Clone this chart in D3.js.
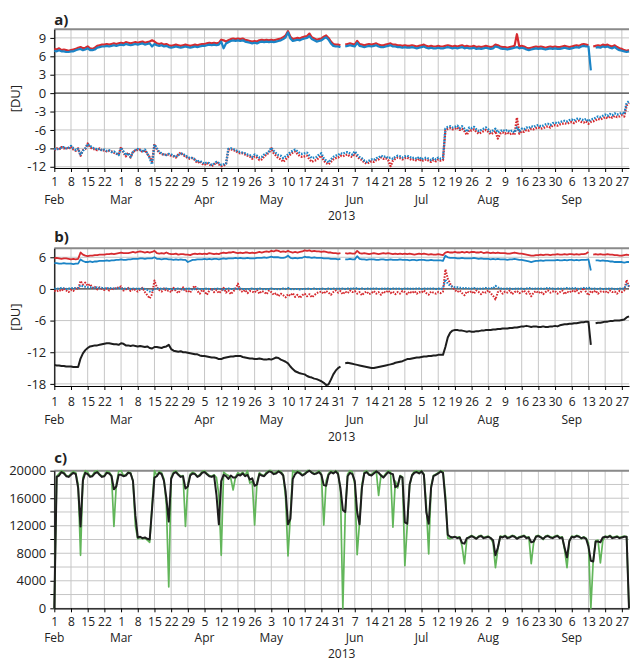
<!DOCTYPE html>
<html>
<head>
<meta charset="utf-8">
<script src="https://cdn.jsdelivr.net/npm/d3@7"></script>
<style>
  body { margin: 0; background: #fff; }
  svg { display: block; }
  text { font-family: "Open Sans", sans-serif; fill: #222; }
</style>
</head>
<body>
<div id="chart"></div>
<script>
// daily values, first value = 1 Feb 2013, last = 30 Sep 2013 (242 days)
const startDate = new Date(2013, 1, 1);
const endDate = new Date(2013, 8, 30);
const monthNames = ["Feb", "Mar", "Apr", "May", "Jun", "Jul", "Aug", "Sep"];
const yearLabel = "2013";
const panelTitles = ["a)", "b)", "c)"];
const unitLabel = "[DU]";

const aTicks = [9, 6, 3, 0, -3, -6, -9, -12];
const bTicks = [6, 0, -6, -12, -18];
const cTicks = [20000, 16000, 12000, 8000, 4000, 0];
const cMinorTicks = [18000, 14000, 10000, 6000, 2000];

// panel a, upper pair
const aRedUp = [
  7.2,7.1,7.3,7.0,7.1,7.0,6.9, 7.0,7.1,7.2,7.4,7.5,7.3,7.4, 7.6,7.3,7.2,7.4,7.7,7.8,7.9, 7.9,8.0,7.9,8.0,8.1,8.0,8.1,
  8.2,8.1,8.3,8.2,8.1,8.2,8.3, 8.2,8.3,8.4,8.2,8.3,8.4,8.6, 8.4,8.1,8.0,8.1,7.9,8.0,7.8, 7.7,7.8,7.9,7.8,7.7,7.8,7.9,
  7.8,7.7,7.8,7.9,7.8,7.9,8.0, 8.0,8.1,8.2,8.1,8.2,8.1,8.2, 8.7,8.6,8.4,8.6,8.8,8.9,8.8, 8.9,8.8,8.9,8.7,8.6,8.5,8.4,
  8.5,8.4,8.6,8.7,8.6,8.7,8.6, 8.7,8.6,8.7,8.8,8.9,9.1,9.4, 10.1,9.2,8.8,8.9,9.0,8.9,9.1, 9.2,9.3,9.7,9.1,8.9,8.7,8.8,
  8.9,9.2,9.4,9.0,8.4,8.0,7.9, 7.9,7.8,null,7.9,8.0,8.1,8.0, 7.9,8.5,8.0,7.9,7.8,7.9,8.0, 7.9,8.0,8.1,7.9,7.8,7.8,7.9,
  8.0,8.1,7.9,7.9,7.8,7.8,7.7, 7.8,7.7,7.7,7.8,7.7,7.6,7.7, 7.8,7.9,7.7,7.6,7.7,7.6,7.6, 7.7,7.6,7.6,7.7,7.8,7.7,7.6,
  7.7,7.6,7.7,7.8,7.6,7.7,7.6, 7.6,7.7,7.5,7.6,7.5,7.6,7.7, 7.6,7.5,7.6,7.9,7.8,7.6,7.5, 7.5,7.4,7.5,7.6,7.7,9.6,7.6,
  7.7,7.6,7.4,7.3,7.4,7.5,7.6, 7.5,7.6,7.5,7.4,7.5,7.6,7.5, 7.6,7.5,7.5,7.6,7.7,7.6,7.5, 7.6,7.7,7.8,7.7,7.9,8.0,7.9,
  7.8,null,7.6,7.7,7.8,7.7,7.9, 7.8,7.9,7.7,7.6,7.8,7.5,7.3, 7.2,7.0,6.9,7.0
];
const aBlueUp = [
  6.9,6.8,7.0,6.8,6.8,6.7,6.7, 6.8,6.8,7.0,7.1,7.2,7.0,7.1, 7.3,7.0,7.0,7.1,7.4,7.5,7.6, 7.6,7.7,7.6,7.7,7.8,7.7,7.8,
  7.9,7.8,8.0,7.9,7.8,7.9,8.0, 7.9,8.0,8.1,7.9,8.0,8.1,7.6, 8.0,7.8,7.7,7.8,7.6,7.7,7.5, 7.4,7.5,7.6,7.5,7.4,7.5,7.6,
  7.5,7.4,7.5,7.6,7.5,7.6,7.7, 7.7,7.8,7.9,7.8,7.9,7.8,7.9, 8.4,7.3,8.1,8.3,8.5,8.6,8.5, 8.6,8.5,8.6,8.4,8.3,8.2,8.1,
  8.2,8.1,8.3,8.4,8.3,8.4,8.3, 8.4,8.3,8.4,8.5,8.6,8.8,9.1, 9.9,8.9,8.5,8.6,8.7,8.6,8.8, 8.9,9.0,9.3,8.8,8.6,8.4,8.5,
  8.6,8.9,9.1,8.7,8.1,7.7,7.6, 7.6,7.5,null,7.6,7.7,7.8,7.7, 7.6,8.2,7.7,7.6,7.5,7.6,7.7, 7.6,7.7,7.8,7.6,7.5,7.5,7.6,
  7.7,7.8,7.6,7.6,7.5,7.5,7.4, 7.5,7.4,7.4,7.5,7.4,7.3,7.4, 7.5,7.6,7.4,7.3,7.4,7.3,7.3, 7.4,7.3,7.3,7.4,7.5,7.4,7.3,
  7.4,7.3,7.4,7.5,7.3,7.4,7.3, 7.3,7.4,7.2,7.3,7.2,7.3,7.4, 7.3,7.2,7.3,7.6,7.5,7.3,7.2, 7.2,7.1,7.2,7.3,7.4,7.5,7.3,
  7.4,7.3,7.1,7.0,7.1,7.2,7.3, 7.2,7.3,7.2,7.1,7.2,7.3,7.2, 7.3,7.2,7.2,7.3,7.4,7.3,7.2, 7.3,7.4,7.5,7.4,7.6,7.7,7.6,
  7.6,3.7,null,7.4,7.5,7.4,7.6, 7.5,7.6,7.4,7.3,7.5,7.2,7.0, 6.9,6.8,6.7,6.8
];
// panel a, lower pair (dotted)
const aRedLo = [
  -9.3,-9.0,-9.2,-8.8,-9.0,-8.9,-9.1, -8.7,-9.2,-9.4,-9.0,-10.2,-9.3,-9.1, -8.2,-8.8,-9.1,-9.1,-9.3,-9.0,-9.4,
  -9.3,-9.5,-9.4,-9.5,-9.7,-9.9,-10.0, -8.8,-9.7,-10.3,-9.7,-10.5,-9.5,-9.4, -9.2,-9.2,-9.6,-9.3,-9.9,-10.4,-11.2,
  -8.3,-9.2,-9.7,-9.9,-10.1,-10.0,-10.0, -10.2,-10.3,-10.5,-10.0,-9.7,-10.1,-10.3, -10.6,-10.7,-10.6,-10.9,-11.4,-11.1,-11.5,
  -11.7,-11.4,-11.6,-11.9,-11.6,-11.3,-11.6, -11.9,-11.8,-11.6,-9.2,-9.1,-9.3,-9.4, -9.7,-9.8,-9.8,-10.0,-10.2,-10.3,-10.7,
  -10.3,-10.5,-10.9,-10.8,-10.3,-10.0,-9.7, -9.0,-9.8,-10.2,-10.6,-10.8,-11.2,-10.8, -10.4,-10.0,-9.7,-9.5,-9.9,-10.3,-10.4,
  -10.3,-10.2,-10.8,-11.2,-11.0,-10.9,-10.5, -10.2,-11.0,-11.4,-11.6,-11.2,-10.8,-10.6, -10.5,-10.2,-10.3,-10.1,-10.0,-10.3,-10.4,
  -9.8,-10.3,-10.7,-10.9,-11.3,-11.5,-11.3, -11.1,-11.2,-10.9,-10.8,-10.5,-10.7,-10.6, -10.9,-11.9,-11.0,-10.7,-10.5,-10.6,-10.8,
  -10.6,-10.5,-10.7,-10.9,-10.8,-11.0,-10.7, -11.1,-10.9,-10.8,-11.0,-11.2,-10.9,-11.1, -10.8,-11.0,-10.9,-6.1,-5.8,-5.7,-5.9,
  -5.8,-5.6,-6.0,-5.8,-6.2,-6.8,-6.0, -6.1,-5.9,-6.3,-6.6,-6.4,-6.2,-6.0, -6.3,-6.7,-6.5,-6.2,-7.4,-6.6,-6.4,
  -6.6,-6.4,-6.7,-6.5,-6.8,-4.0,-6.6, -6.2,-6.3,-6.0,-6.1,-5.8,-5.9,-5.7, -5.6,-5.8,-5.7,-5.5,-5.4,-5.6,-5.3,
  -5.2,-5.3,-5.1,-5.0,-4.9,-5.0,-4.8, -4.7,-4.9,-4.6,-4.5,-4.7,-4.8,-4.6, -5.0,-4.7,-4.6,-4.4,-4.2,-4.3,-4.1,
  -3.9,-4.1,-3.8,-4.0,-3.7,-3.9,-3.8, -3.6,-3.8,-2.0,-1.6
];
const aBlueLo = [
  -9.1,-9.2,-9.0,-8.9,-8.8,-9.0,-8.9, -8.6,-9.0,-9.3,-9.1,-10.0,-9.4,-9.0, -8.3,-8.6,-8.9,-9.0,-9.2,-9.1,-9.3,
  -9.2,-9.4,-9.3,-9.6,-9.5,-9.8,-10.1, -8.9,-9.5,-10.1,-9.8,-10.4,-9.6,-9.3, -9.1,-9.3,-9.5,-9.2,-9.8,-10.6,-11.6,
  -8.4,-9.0,-9.6,-9.8,-10.0,-10.1,-9.9, -10.0,-10.2,-10.4,-10.1,-9.8,-9.9,-10.2, -10.4,-10.6,-10.5,-10.8,-11.2,-11.0,-11.3,
  -11.5,-11.3,-11.4,-11.7,-11.5,-11.2,-11.4, -11.7,-11.6,-11.5,-9.1,-9.0,-9.1,-9.3, -9.5,-9.6,-9.7,-9.8,-10.0,-10.1,-10.4,
  -10.0,-10.2,-10.5,-10.4,-10.0,-9.8,-9.5, -8.9,-9.4,-9.8,-10.1,-10.2,-10.6,-10.3, -10.0,-9.6,-9.4,-9.2,-9.5,-9.8,-9.9,
  -9.8,-9.7,-10.2,-10.6,-10.5,-10.4,-10.0, -9.8,-10.6,-11.0,-11.3,-10.8,-10.4,-10.2, -10.1,-9.8,-9.9,-9.7,-9.6,-9.8,-10.0,
  -9.5,-10.0,-10.4,-10.6,-11.0,-11.2,-11.0, -10.8,-10.9,-10.6,-10.5,-10.2,-10.4,-10.3, -10.6,-10.5,-10.7,-10.4,-10.2,-10.3,-10.5,
  -10.3,-10.2,-10.4,-10.6,-10.5,-10.7,-10.4, -10.8,-10.6,-10.5,-10.7,-10.9,-10.6,-10.8, -10.5,-10.7,-10.6,-5.8,-5.5,-5.4,-5.6,
  -5.5,-5.3,-5.7,-5.4,-5.8,-6.3,-5.6, -5.7,-5.5,-5.9,-6.2,-6.0,-5.8,-5.6, -5.9,-6.3,-6.1,-5.8,-6.4,-6.2,-6.0,
  -6.2,-6.0,-6.3,-6.1,-6.4,-5.6,-6.2, -5.8,-5.9,-5.6,-5.7,-5.4,-5.5,-5.3, -5.2,-5.4,-5.3,-5.1,-5.0,-5.2,-4.9,
  -4.8,-4.9,-4.7,-4.6,-4.5,-4.6,-4.4, -4.3,-4.5,-4.2,-4.1,-4.3,-4.4,-4.2, -4.6,-4.3,-4.2,-4.0,-3.8,-3.9,-3.7,
  -3.5,-3.7,-3.4,-3.6,-3.3,-3.5,-3.4, -3.2,-3.4,-1.6,-1.3
];

// panel b
const bRedUp = [
  5.8,5.9,5.8,5.7,5.8,5.8,5.7, 5.6,5.7,5.6,5.7,6.9,6.5,6.3, 6.2,6.3,6.3,6.4,6.4,6.5,6.5, 6.5,6.6,6.6,6.7,6.6,6.7,6.8,
  6.9,6.8,6.8,6.8,6.9,7.0,6.9, 7.0,7.1,7.0,6.9,7.0,6.9,7.0, 7.2,6.8,6.7,6.8,6.7,6.9,6.7, 6.6,6.6,6.7,6.5,6.6,6.6,6.5,
  6.5,6.4,6.6,6.7,6.6,6.7,6.6, 6.7,6.6,6.8,6.7,6.6,6.7,6.6, 6.8,6.9,6.8,6.9,6.9,7.0,6.9, 6.8,6.9,6.8,6.9,6.9,6.8,6.9,
  6.8,6.9,7.0,6.9,7.0,7.1,7.0, 7.2,7.1,7.3,7.2,7.0,7.1,7.0, 7.2,7.0,6.9,7.0,6.9,7.0,7.1, 7.3,7.2,7.3,7.1,7.2,7.1,7.1,
  7.0,7.1,7.0,6.9,6.9,6.8,6.8, 6.7,6.8,null,6.8,6.7,6.8,6.7, 6.7,7.2,6.8,6.7,6.8,6.7,6.6, 6.7,6.8,6.7,6.6,6.7,6.8,6.7,
  6.8,6.7,6.6,6.7,6.6,6.7,6.6, 6.7,6.6,6.7,6.6,6.5,6.6,6.7, 6.6,6.7,6.6,6.5,6.6,6.5,6.5, 6.6,6.5,6.4,6.9,7.0,6.9,6.9,
  7.0,6.9,6.9,7.0,6.9,7.0,6.9, 7.0,7.0,6.9,6.9,7.0,6.8,6.9, 6.9,6.8,6.9,6.8,6.9,6.8,6.8, 6.8,6.7,6.7,6.8,6.9,6.8,6.7,
  6.7,6.6,6.5,6.4,6.3,6.3,6.4, 6.4,6.5,6.4,6.5,6.5,6.4,6.5, 6.5,6.6,6.5,6.5,6.6,6.5,6.6, 6.6,6.5,6.6,6.5,6.6,6.6,6.7,
  7.0,null,6.5,6.6,6.5,6.6,6.5, 6.5,6.6,6.5,6.5,6.4,6.4,6.3, 6.3,6.4,6.5,6.4
];
const bBlueUp = [
  4.9,4.9,4.8,4.8,4.9,4.8,4.8, 4.8,4.7,4.8,4.8,5.6,5.3,5.1, 5.1,5.2,5.1,5.2,5.2,5.3,5.3, 5.3,5.4,5.3,5.4,5.4,5.5,5.5,
  5.6,5.5,5.5,5.6,5.6,5.7,5.7, 5.7,5.8,5.8,5.7,5.8,5.8,5.8, 6.0,5.7,5.7,5.6,5.7,5.7,5.6, 5.6,5.5,5.6,5.5,5.6,5.5,5.5,
  5.1,5.3,5.5,5.5,5.6,5.6,5.6, 5.7,5.6,5.7,5.6,5.7,5.7,5.6, 5.7,5.8,5.7,5.8,5.8,5.8,5.9, 5.8,5.9,5.8,5.8,5.9,5.8,5.8,
  5.8,5.9,5.9,5.9,6.0,5.9,6.0, 6.1,6.0,6.0,6.0,5.9,5.9,6.0, 6.3,5.9,5.8,5.9,5.8,5.9,5.9, 6.1,6.0,6.0,5.9,6.0,5.9,5.9,
  5.9,5.8,5.8,5.8,5.7,5.7,5.7, 5.6,5.7,null,5.6,5.6,5.7,5.6, 5.6,6.2,5.7,5.6,5.6,5.5,5.6, 5.6,5.6,5.5,5.5,5.6,5.6,5.5,
  5.5,5.6,5.5,5.5,5.5,5.6,5.5, 5.5,5.5,5.4,5.5,5.5,5.4,5.5, 5.5,5.5,5.4,5.4,5.5,5.4,5.4, 5.4,5.4,5.3,6.3,6.0,5.9,5.9,
  5.9,5.8,5.8,5.9,5.8,5.8,5.8, 5.8,5.9,5.8,5.7,5.8,5.7,5.7, 5.7,5.6,5.7,5.6,5.7,5.6,5.6, 5.6,5.5,5.6,5.6,5.7,5.6,5.5,
  5.5,5.4,5.3,5.2,5.1,5.2,5.3, 5.3,5.4,5.3,5.4,5.4,5.4,5.4, 5.4,5.5,5.4,5.4,5.5,5.4,5.5, 5.5,5.4,5.5,5.4,5.5,5.5,5.5,
  5.6,3.5,null,5.4,5.4,5.3,5.4, 5.3,5.3,5.2,5.2,5.1,5.1,5.1, 5.1,5.0,5.1,5.1
];
const bRedMid = [
  -0.3,-0.5,-0.2,-0.4,0.1,-0.3,-0.6, -0.2,-0.4,0.3,-0.1,1.5,0.8,1.2, 0.6,0.9,0.2,0.4,-0.1,0.3,0.0, -0.2,0.1,-0.3,0.2,-0.1,0.3,0.2,
  0.5,-0.3,-0.1,0.2,-0.4,0.0,-0.2, -0.5,-0.1,0.2,-0.6,-1.2,-1.8,-1.0, 1.6,0.3,-0.2,-0.5,0.1,-0.4,-0.3, -0.6,0.2,-0.4,-0.8,-0.2,0.3,-0.5,
  -0.3,-0.7,0.2,0.6,-0.4,-0.9,-0.2, -0.5,-1.1,-0.3,0.1,-0.6,-0.2,-0.8, -0.4,0.2,-0.7,-0.3,-1.0,-0.5,0.0, 1.0,-0.3,-0.6,-0.2,-0.8,-0.4,-0.5,
  -0.7,-0.2,-0.9,-0.4,-0.6,-1.0,-0.3, -0.6,-1.1,-0.8,-1.4,-0.9,-1.2,-1.6, -1.0,-1.3,-0.8,-1.5,-1.1,-1.7,-1.2, -0.9,-1.4,-1.0,-1.6,-1.2,-0.8,-0.6,
  -0.5,-0.9,-0.4,-0.7,-1.1,-0.6,-0.3, -0.7,-0.4,-1.0,-0.5,-0.8,-0.3,-0.6, -0.4,-0.9,-0.6,-1.2,-0.7,-0.5,-1.0, -0.8,-0.4,-0.9,-0.6,-1.1,-0.5,-0.7,
  -0.3,-0.8,-0.5,-1.0,-0.6,-0.9,-0.4, -0.6,-1.0,-0.5,-0.8,-0.4,-0.9,-0.6, -0.7,-0.3,-0.8,-1.1,-0.5,-0.7,-0.9, -0.6,-0.8,-0.5,3.7,2.0,1.0,0.3,
  -0.2,-0.6,-0.3,-0.8,-1.2,-0.5,-0.7, -0.4,-0.9,-0.3,-0.6,-1.0,-0.5,-0.7, -0.3,-0.8,-1.3,-2.0,-0.6,-0.4,-0.9, -0.5,-0.7,-0.3,-1.0,-0.6,-0.4,-0.8,
  -0.6,-0.3,-0.9,-0.5,-1.4,-0.7,-0.4, -0.8,-0.5,-1.0,-0.6,-0.3,-0.7,-0.5, -0.4,-0.9,-0.6,-0.3,-1.0,-0.5,-0.7, -0.3,-0.6,-0.2,-0.8,-0.5,0.2,-0.6,
  -1.2,-0.4,-0.7,-0.3,-0.9,-0.5,-0.6, -0.4,-0.8,-0.3,-0.6,-0.5,-0.9,-0.4, -0.6,-0.3,1.7,0.4
];
const bBlueMid = [
  0.1,0.0,0.1,0.2,0.1,0.0,0.1, 0.1,0.2,0.1,0.2,0.7,0.5,0.4, 0.3,0.3,0.2,0.2,0.3,0.2,0.2, 0.1,0.2,0.1,0.2,0.1,0.1,0.2,
  0.1,0.0,0.1,0.1,0.0,0.1,0.0, 0.1,0.0,0.1,0.0,-0.2,-0.5,-0.3, 0.0,0.1,0.0,0.1,0.0,0.1,0.0, 0.0,-0.1,0.0,0.1,0.0,-0.1,0.0,
  0.1,0.0,-0.1,0.0,0.1,0.0,0.0, 0.0,0.1,0.0,-0.1,0.0,0.1,0.0, 0.0,-0.1,0.0,0.1,0.0,0.0,0.1, 0.0,0.1,0.0,0.0,-0.1,0.0,0.1,
  0.0,0.0,0.1,0.0,-0.1,0.0,0.0, 0.1,0.0,0.0,-0.1,0.0,0.1,0.0, 0.2,0.0,-0.1,0.0,0.0,-0.1,0.0, 0.0,0.1,0.0,0.0,0.1,0.0,0.0,
  0.1,0.0,0.0,0.1,0.0,0.1,0.0, 0.1,0.0,0.1,0.0,0.1,0.1,0.0, 0.2,0.1,0.0,0.1,0.0,0.1,0.1, 0.0,0.1,0.1,0.0,0.1,0.0,0.1,
  0.1,0.0,0.1,0.1,0.0,0.1,0.0, 0.1,0.1,0.0,0.1,0.0,0.1,0.1, 0.0,0.1,0.1,0.0,0.1,0.1,0.0, 0.1,0.0,0.1,1.8,1.0,0.6,0.4,
  0.3,0.3,0.2,0.2,0.1,0.2,0.1, 0.1,0.2,0.1,0.0,0.1,0.1,0.2, 0.1,0.2,0.1,0.6,0.3,0.1,0.1, 0.0,0.1,0.1,0.0,0.1,0.0,0.1,
  0.1,0.0,0.1,0.2,0.1,0.0,0.1, 0.1,0.1,0.0,0.1,0.2,0.1,0.1, 0.0,0.1,0.1,0.0,0.1,0.2,0.1, 0.1,0.2,0.1,0.0,0.1,0.2,0.1,
  0.3,0.0,0.1,0.1,0.0,0.1,0.0, 0.0,0.1,0.0,0.1,0.0,0.0,0.1, 0.0,0.1,0.9,0.5
];
const bBlack = [
  -14.4,-14.5,-14.5,-14.6,-14.6,-14.7,-14.7, -14.7,-14.8,-14.8,-14.8,-13.2,-12.2,-11.6, -11.2,-10.9,-10.8,-10.7,-10.7,-10.6,-10.5,
  -10.4,-10.3,-10.3,-10.4,-10.5,-10.5,-10.6, -10.3,-10.4,-10.7,-10.7,-10.8,-10.7,-10.8, -10.9,-10.8,-10.9,-11.0,-10.9,-11.2,-11.3,
  -11.0,-11.0,-11.1,-11.2,-11.0,-10.9,-10.6, -11.4,-11.7,-11.8,-11.9,-11.8,-12.0,-12.0, -12.1,-12.2,-12.3,-12.4,-12.4,-12.6,-12.7,
  -12.7,-12.8,-12.9,-13.0,-13.0,-13.1,-13.3, -13.3,-13.1,-13.0,-12.9,-12.8,-12.8,-12.7, -12.7,-12.7,-12.9,-13.0,-13.1,-13.2,-13.2,
  -13.3,-13.3,-13.2,-13.3,-13.4,-13.4,-13.3, -13.4,-13.2,-13.0,-13.1,-13.4,-13.6,-13.8, -14.1,-14.7,-15.2,-15.6,-15.8,-16.0,-16.1,
  -16.2,-16.5,-16.7,-16.8,-17.0,-17.1,-17.3, -17.5,-17.8,-18.2,-18.1,-17.2,-16.2,-15.5, -15.0,-14.7,null,-14.1,-14.0,-14.1,-14.2,
  -14.3,-14.4,-14.5,-14.6,-14.7,-14.8,-14.9, -15.0,-15.0,-14.9,-14.8,-14.7,-14.6,-14.5, -14.4,-14.3,-14.2,-14.0,-13.9,-13.8,-13.7,
  -13.5,-13.3,-13.3,-13.2,-13.1,-13.0,-13.0, -12.9,-12.8,-12.8,-12.7,-12.7,-12.6,-12.6, -12.5,-12.5,-12.5,-11.0,-9.2,-8.3,-7.9,
  -7.8,-7.8,-7.9,-7.9,-8.0,-8.1,-8.0, -8.1,-8.1,-8.0,-8.0,-7.9,-7.9,-7.8, -7.8,-7.8,-7.7,-7.7,-7.6,-7.6,-7.5,
  -7.5,-7.5,-7.4,-7.4,-7.3,-7.3,-7.2, -7.1,-7.1,-7.0,-7.1,-7.2,-7.1,-7.1, -7.2,-7.2,-7.1,-7.2,-7.2,-7.1,-7.1,
  -7.0,-7.1,-6.9,-6.8,-6.7,-6.7,-6.6, -6.6,-6.5,-6.5,-6.4,-6.3,-6.3,-6.2, -6.2,-10.6,null,-6.5,-6.4,-6.4,-6.3,
  -6.2,-6.2,-6.1,-6.1,-6.0,-6.0,-6.0, -5.9,-5.8,-5.4,-5.2
];

// panel c
const cGreen = [
  0,19200,19600,20000,19800,19300,19200, 19600,19900,19700,18000,7700,19000,20000, 19800,19200,19300,19900,20000,19500,19200,
  19300,19900,19800,19300,11900,18000,19900, 20000,19300,19400,19800,19700,18500,12000, 10100,10300,10100,10200,9900,9600,15000,
  20000,19300,19900,19700,18800,15000,3100, 19000,19800,20000,19500,19200,19300,11900, 18000,19500,19800,19600,19200,19400,19900,
  20000,19600,19300,19200,19400,19000,16500, 7700,19800,19500,19300,18900,17200,19100, 19700,19500,19800,19300,20000,18200,18500,
  12100,18300,19700,19400,19300,19800,20000, 20000,19600,19800,20000,19900,19400,16000, 7600,13500,20000,19700,20000,19800,19400,
  19600,20000,20000,19800,19600,19700,20000, 19500,12100,18500,19600,20000,19700,20000, 19700,17000,0,13800,19500,20000,19800,
  18000,7800,12500,18000,19800,20000,19500, 19400,19800,20000,16400,19400,19100,19600, 20000,19800,11800,18500,17500,19300,19100,
  6200,12000,17800,19400,19900,20000,19800, 20000,19500,15000,7900,17800,19300,19500, 19700,20000,19900,16500,10200,10100,10300,
  10400,10300,10400,9000,6500,10100,10400, 10600,10400,10200,10500,10600,10300,10400, 10500,10200,9500,5900,8600,10500,10400,
  10600,10300,10400,10600,10500,10200,10400, 10500,10600,10300,10400,6500,9500,10500, 10600,10400,10000,10500,10600,10400,10300,
  10500,10600,10300,10400,8500,5900,9800, 10500,10400,10600,10500,10100,10400,10200, 9500,0,7000,9800,9900,6600,9800,
  10500,10400,10600,10300,10400,10500,10300, 10400,10500,10400,0
];
const cBlack = [
  0,19100,19300,19800,19600,19200,19100, 19400,19700,19500,17500,11900,18600,19700, 19500,19100,19200,19600,19800,19400,19100,
  19200,19700,19600,19200,17300,17700,19400, 19400,19200,19300,19700,19600,18500,13500, 10300,10400,10200,10300,10100,10000,14500,
  19000,19200,19700,19500,18500,16000,12600, 18800,19600,19800,19400,19100,19200,17400, 17700,19300,19600,19500,19100,19300,19700,
  19800,19500,19200,19100,19300,16500,12200, 18500,19400,19200,18800,19300,19000,19000, 19400,19300,19600,19200,19400,18700,18900,
  17800,18000,19500,19300,19200,19600,19900, 19800,19500,19600,19900,19700,19300,17000, 12200,13000,18800,19500,19800,19600,19300,
  19500,19800,20000,19700,19500,19600,19800, 19400,17900,17800,19400,19800,19600,19900, 19500,17500,14300,14000,19200,19700,19500,
  18500,14000,12200,17500,19600,19800,19400, 19300,19600,19900,19700,19300,19000,19400, 19800,19600,19500,17600,17800,19200,19000,
  12500,12300,18000,19300,19700,19800,19600, 19900,19400,14000,12300,17500,19200,19400, 19600,19900,19700,15800,10700,10400,10300,
  10400,10200,10300,9500,9400,10200,10300, 10500,10300,10100,10400,10500,10200,10300, 10400,10200,9900,7700,8800,10400,10300,
  10500,10200,10300,10500,10400,10100,10300, 10400,10500,10200,10300,9600,9700,10400, 10500,10300,10100,10400,10500,10300,10200,
  10400,10500,10200,10300,8800,7400,9800, 10400,10300,10500,10400,10200,10300,10100, 9000,6900,6800,9700,9700,9600,10300,
  10400,10300,10500,10200,10300,10400,10200, 10300,10400,10400,0
];

const red = "#d62b30";
const blue = "#1b84c6";
const green = "#62b65a";
const black = "#1e1e1e";
const gridColor = "#c6c6c6";

const svg = d3.select("#chart").append("svg")
  .attr("width", 630)
  .attr("height", 661);

let x = d3.scaleTime()
  .domain([startDate, endDate])
  .range([54.3, 629]);

const dayDate = i => d3.timeDay.offset(startDate, i);
const weekTicks = d3.timeDay.range(startDate, d3.timeDay.offset(endDate, 1), 7);

const panels = [
  {title: panelTitles[0], top: 29.3, bottom: 168, domain: [-12.2, 10.4], ticks: aTicks, grid: aTicks,
   zero: true, unit: true, titleY: 25, pad: 5.8, monthY: 203.8, yearY: 219.5},
  {title: panelTitles[1], top: 248.3, bottom: 386, domain: [-18.4, 7.7], ticks: bTicks, grid: bTicks,
   zero: true, unit: true, titleY: 242, pad: 7.8, monthY: 424, yearY: 440.5},
  {title: panelTitles[2], top: 470.7, bottom: 608.3, domain: [0, 20000], ticks: cTicks, grid: cTicks.concat(cMinorTicks),
   zero: false, unit: false, titleY: 463, pad: 5.6, monthY: 642, yearY: 657.6}
];

function drawPanel(p) {
  let y = d3.scaleLinear().domain(p.domain).range([p.bottom, p.top]);
  let g = svg.append("g");

  // grid
  g.selectAll(".vgrid")
    .data(weekTicks)
    .enter()
    .append("line")
    .attr("x1", d => x(d)).attr("x2", d => x(d))
    .attr("y1", p.top).attr("y2", p.bottom)
    .attr("stroke", gridColor).attr("stroke-width", 1);

  g.selectAll(".hgrid")
    .data(p.grid)
    .enter()
    .append("line")
    .attr("x1", x.range()[0]).attr("x2", x.range()[1])
    .attr("y1", d => y(d)).attr("y2", d => y(d))
    .attr("stroke", gridColor).attr("stroke-width", 1);

  if (p.zero) {
    g.append("line")
      .attr("x1", x.range()[0]).attr("x2", x.range()[1])
      .attr("y1", y(0)).attr("y2", y(0))
      .attr("stroke", "#444").attr("stroke-width", 1.2);
  }

  // top frame
  g.append("line")
    .attr("x1", x.range()[0]).attr("x2", x.range()[1])
    .attr("y1", p.top).attr("y2", p.top)
    .attr("stroke", "#8a8a8a").attr("stroke-width", 2);

  // axes
  let xAxis = d3.axisBottom(x)
    .tickValues(weekTicks)
    .tickFormat(d3.timeFormat("%-d"))
    .tickSize(4)
    .tickSizeOuter(0)
    .tickPadding(p.pad);
  let xg = g.append("g")
    .attr("transform", `translate(0, ${p.bottom})`)
    .call(xAxis);
  xg.selectAll("text").attr("font-size", "12px").attr("fill", "#222");

  let yAxis = d3.axisLeft(y)
    .tickValues(p.ticks)
    .tickFormat(d => String(d))
    .tickSize(4)
    .tickSizeOuter(0)
    .tickPadding(4);
  let yg = g.append("g")
    .attr("transform", `translate(${x.range()[0]}, 0)`)
    .call(yAxis);
  yg.selectAll("text").attr("font-size", "13px").attr("fill", "#222");
  if (p.grid.length > p.ticks.length) {
    yg.selectAll(".minor")
      .data(cMinorTicks)
      .enter()
      .append("line")
      .attr("x1", -4).attr("x2", 0)
      .attr("y1", d => y(d)).attr("y2", d => y(d))
      .attr("stroke", "#000");
  }
  [xg, yg].forEach(a => {
    a.select(".domain").attr("stroke", "#000").attr("stroke-width", 1.2);
    a.selectAll(".tick line").attr("stroke", "#000");
  });

  // month labels under the first weekly tick of each month
  monthNames.forEach((m, k) => {
    let first = weekTicks.find(t => t.getMonth() === k + 1);
    g.append("text")
      .text(m)
      .attr("x", x(first))
      .attr("y", p.monthY)
      .attr("text-anchor", "middle")
      .attr("font-size", "12px");
  });
  g.append("text")
    .text(yearLabel)
    .attr("x", (x.range()[0] + x.range()[1]) / 2)
    .attr("y", p.yearY)
    .attr("text-anchor", "middle")
    .attr("font-size", "12px");

  g.append("text")
    .text(p.title)
    .attr("x", x.range()[0])
    .attr("y", p.titleY)
    .attr("font-size", "15px")
    .attr("font-weight", "bold");

  if (p.unit) {
    g.append("text")
      .text(unitLabel)
      .attr("transform", `translate(20, ${(p.top + p.bottom) / 2}) rotate(-90)`)
      .attr("text-anchor", "middle")
      .attr("font-size", "13px");
  }
  return {g: g, y: y};
}

function addLine(panel, values, color, width, dash) {
  let line = d3.line()
    .defined(d => d !== null)
    .x((d, i) => x(dayDate(i)))
    .y(d => panel.y(d));
  let path = panel.g.append("path")
    .datum(values)
    .attr("d", line)
    .attr("fill", "none")
    .attr("stroke", color)
    .attr("stroke-width", width)
    .attr("stroke-linejoin", "round");
  if (dash) path.attr("stroke-dasharray", dash);
}

let pa = drawPanel(panels[0]);
addLine(pa, aRedUp, red, 2.2);
addLine(pa, aBlueUp, blue, 2.2);
addLine(pa, aRedLo, red, 2.3, "1.6,1.3");
addLine(pa, aBlueLo, blue, 2.3, "1.6,1.3");

let pb = drawPanel(panels[1]);
addLine(pb, bRedUp, red, 1.8);
addLine(pb, bBlueUp, blue, 1.8);
addLine(pb, bRedMid, red, 2, "1.6,1.3");
addLine(pb, bBlueMid, blue, 2, "1.6,1.3");
addLine(pb, bBlack, black, 2);

let pc = drawPanel(panels[2]);
addLine(pc, cGreen, green, 1.7);
addLine(pc, cBlack, black, 2);
</script>
</body>
</html>
